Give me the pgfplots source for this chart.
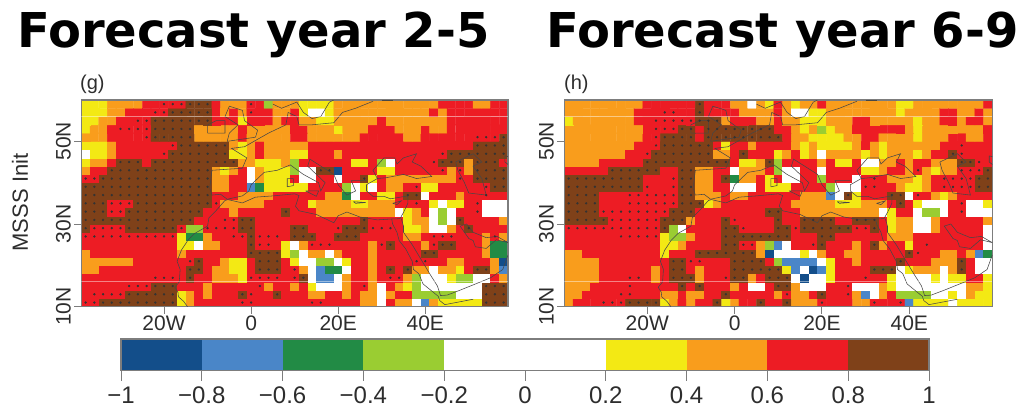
\documentclass[border=0pt]{standalone}
\usepackage{fontspec}
\setmainfont{Liberation Sans}
\newfontfamily\ttlfont{DejaVu Sans}
\usepackage{pgfplots}
\usepackage{pgfplotstable}
\pgfplotsset{compat=1.18}
\definecolor{cD}{RGB}{19,78,138}
\definecolor{cL}{RGB}{74,134,200}
\definecolor{cG}{RGB}{34,139,69}
\definecolor{cl}{RGB}{154,205,50}
\definecolor{cY}{RGB}{243,233,20}
\definecolor{cO}{RGB}{249,157,28}
\definecolor{cR}{RGB}{237,28,36}
\definecolor{cB}{RGB}{127,65,25}
\definecolor{axc}{RGB}{125,125,125}
\definecolor{txc}{RGB}{45,45,45}
% codes: 0 dark blue,1 blue,2 green,3 light green,5 white,6 yellow,7 orange,8 red,9 brown with stipple,10 red with stipple
% rows run from the southernmost (11N) to the northernmost (59N)
\pgfplotstableread[row sep=crcr]{v\\
10\\10\\9\\9\\9\\9\\9\\9\\9\\9\\9\\6\\7\\8\\8\\8\\8\\8\\10\\10\\8\\8\\8\\8\\8\\8\\10\\10\\8\\8\\8\\8\\7\\7\\5\\8\\7\\7\\5\\1\\7\\6\\6\\6\\6\\6\\9\\9\\9\\
8\\10\\10\\10\\10\\9\\9\\9\\9\\9\\9\\6\\7\\8\\7\\8\\8\\8\\9\\10\\8\\8\\9\\8\\8\\8\\7\\7\\8\\8\\7\\8\\7\\7\\5\\7\\8\\8\\3\\3\\3\\3\\3\\5\\5\\5\\9\\9\\9\\
8\\8\\8\\8\\8\\10\\10\\10\\9\\9\\9\\8\\8\\8\\7\\8\\8\\8\\8\\8\\10\\7\\8\\8\\7\\8\\6\\5\\5\\5\\7\\8\\10\\7\\5\\8\\7\\6\\3\\5\\5\\5\\5\\5\\5\\5\\9\\9\\9\\
8\\8\\8\\8\\8\\8\\8\\8\\10\\10\\10\\8\\9\\8\\8\\7\\7\\7\\6\\10\\10\\10\\10\\8\\10\\9\\5\\1\\1\\5\\7\\8\\8\\7\\8\\10\\10\\7\\3\\5\\5\\5\\6\\3\\3\\5\\5\\8\\7\\
7\\7\\8\\8\\8\\8\\8\\8\\8\\8\\8\\8\\9\\9\\8\\7\\7\\6\\6\\8\\9\\9\\9\\8\\10\\7\\5\\1\\2\\2\\5\\8\\8\\7\\8\\9\\8\\9\\7\\7\\5\\7\\7\\6\\8\\9\\9\\7\\1\\
7\\7\\7\\7\\7\\7\\8\\8\\8\\8\\8\\8\\10\\9\\8\\8\\7\\6\\6\\8\\9\\9\\9\\8\\6\\5\\5\\3\\3\\5\\6\\8\\8\\7\\8\\8\\8\\8\\10\\10\\8\\8\\7\\7\\8\\8\\8\\7\\0\\
7\\8\\8\\8\\8\\8\\8\\8\\8\\8\\8\\7\\8\\8\\8\\8\\8\\8\\8\\9\\9\\9\\9\\6\\3\\5\\7\\7\\5\\7\\8\\8\\8\\7\\8\\8\\8\\8\\8\\9\\9\\8\\8\\8\\8\\8\\7\\2\\2\\
8\\8\\8\\8\\8\\8\\8\\8\\8\\8\\8\\6\\6\\5\\7\\7\\8\\8\\8\\9\\10\\10\\8\\6\\5\\7\\10\\10\\10\\8\\8\\8\\8\\7\\10\\9\\8\\8\\8\\7\\10\\9\\9\\8\\8\\8\\7\\2\\2\\
10\\10\\10\\10\\10\\10\\10\\10\\10\\10\\10\\6\\2\\2\\7\\8\\8\\10\\10\\9\\10\\10\\10\\8\\9\\9\\9\\8\\8\\9\\9\\9\\8\\8\\8\\8\\8\\7\\7\\8\\10\\10\\10\\8\\8\\8\\7\\10\\7\\
9\\10\\10\\10\\10\\9\\9\\9\\9\\9\\9\\10\\3\\3\\10\\10\\10\\10\\9\\9\\8\\8\\8\\8\\9\\9\\8\\8\\8\\10\\9\\9\\9\\10\\10\\10\\8\\6\\6\\7\\5\\5\\7\\8\\9\\8\\8\\8\\8\\
9\\9\\9\\9\\9\\9\\9\\9\\9\\9\\9\\9\\9\\8\\8\\8\\10\\10\\9\\9\\8\\8\\8\\8\\8\\8\\8\\8\\8\\8\\8\\8\\9\\8\\8\\8\\8\\6\\7\\7\\5\\3\\5\\9\\8\\8\\8\\8\\7\\
9\\9\\9\\10\\10\\9\\9\\9\\9\\9\\9\\9\\9\\9\\8\\8\\8\\7\\8\\8\\8\\8\\8\\9\\8\\8\\8\\7\\7\\7\\7\\7\\7\\7\\7\\7\\5\\6\\7\\8\\5\\3\\5\\8\\8\\10\\5\\5\\5\\
9\\9\\9\\10\\10\\10\\9\\9\\9\\9\\9\\9\\9\\9\\9\\10\\7\\7\\7\\7\\7\\8\\8\\8\\8\\8\\6\\7\\7\\7\\7\\6\\6\\7\\7\\7\\8\\8\\10\\8\\6\\5\\6\\6\\8\\10\\5\\5\\5\\
9\\9\\9\\9\\9\\9\\9\\9\\9\\9\\9\\9\\9\\9\\9\\8\\8\\8\\7\\7\\7\\7\\8\\8\\8\\8\\8\\8\\7\\7\\2\\5\\8\\8\\6\\6\\8\\9\\9\\5\\8\\8\\8\\7\\8\\8\\10\\8\\8\\
9\\9\\9\\9\\9\\9\\9\\9\\9\\9\\9\\9\\9\\9\\9\\7\\7\\8\\8\\1\\2\\6\\6\\6\\6\\6\\8\\8\\8\\8\\3\\5\\6\\5\\8\\7\\7\\8\\10\\6\\6\\8\\8\\8\\8\\8\\10\\9\\9\\
10\\10\\9\\9\\9\\9\\9\\9\\9\\9\\9\\9\\9\\9\\9\\7\\7\\8\\8\\5\\7\\6\\6\\6\\8\\5\\5\\8\\8\\5\\8\\8\\9\\6\\8\\7\\7\\7\\7\\7\\7\\7\\7\\10\\8\\9\\9\\9\\9\\
7\\8\\8\\9\\9\\9\\9\\9\\9\\9\\9\\9\\9\\9\\9\\7\\6\\7\\8\\5\\7\\6\\6\\6\\3\\5\\5\\9\\9\\0\\8\\8\\8\\8\\6\\6\\8\\8\\8\\8\\8\\10\\7\\10\\7\\9\\9\\9\\9\\
6\\7\\7\\8\\9\\9\\9\\8\\9\\9\\9\\9\\9\\9\\9\\9\\9\\9\\7\\7\\6\\6\\6\\7\\3\\8\\8\\8\\8\\8\\8\\6\\6\\8\\3\\5\\8\\8\\8\\8\\10\\9\\9\\9\\7\\9\\9\\9\\8\\
5\\6\\6\\7\\8\\8\\8\\8\\8\\10\\9\\9\\9\\9\\9\\9\\9\\6\\6\\7\\8\\7\\7\\7\\6\\6\\8\\8\\8\\7\\8\\8\\8\\8\\8\\8\\8\\8\\8\\8\\8\\10\\9\\9\\9\\9\\9\\9\\9\\
6\\6\\6\\7\\8\\8\\8\\8\\8\\8\\10\\9\\9\\9\\9\\9\\9\\7\\6\\7\\8\\7\\7\\7\\7\\7\\8\\8\\8\\8\\8\\8\\8\\8\\8\\8\\8\\8\\8\\8\\8\\8\\8\\8\\8\\9\\9\\9\\9\\
7\\7\\7\\8\\8\\8\\8\\10\\9\\9\\9\\9\\9\\7\\7\\7\\7\\7\\8\\7\\7\\7\\7\\7\\8\\8\\7\\7\\7\\7\\7\\7\\8\\8\\8\\8\\8\\7\\7\\8\\8\\8\\8\\8\\8\\10\\10\\10\\9\\
6\\7\\7\\8\\10\\10\\10\\10\\9\\9\\9\\9\\9\\7\\7\\7\\7\\7\\8\\7\\7\\7\\7\\7\\8\\8\\7\\7\\7\\6\\7\\7\\7\\8\\8\\8\\7\\7\\7\\8\\7\\7\\8\\8\\8\\8\\8\\8\\8\\
6\\6\\7\\7\\8\\8\\10\\10\\9\\9\\9\\9\\9\\9\\9\\8\\8\\8\\6\\8\\8\\8\\7\\8\\8\\7\\7\\6\\6\\7\\7\\7\\7\\7\\8\\7\\7\\7\\7\\7\\7\\7\\8\\8\\8\\8\\8\\8\\8\\
6\\6\\6\\7\\7\\8\\8\\8\\10\\10\\9\\9\\9\\9\\9\\8\\7\\8\\7\\10\\8\\8\\7\\7\\8\\6\\5\\5\\6\\7\\7\\7\\7\\7\\7\\7\\7\\7\\7\\7\\8\\7\\8\\8\\8\\8\\8\\8\\8\\
6\\6\\6\\7\\7\\7\\7\\8\\8\\10\\10\\10\\9\\9\\9\\8\\7\\7\\7\\10\\8\\3\\7\\7\\7\\6\\6\\6\\6\\7\\7\\7\\7\\7\\7\\7\\7\\7\\7\\7\\7\\8\\8\\8\\8\\7\\7\\8\\8\\
}\tableg
\pgfplotstableread[row sep=crcr]{v\\
7\\8\\8\\8\\10\\10\\10\\9\\9\\9\\9\\6\\7\\8\\7\\8\\8\\9\\6\\7\\8\\8\\9\\8\\8\\9\\7\\7\\7\\10\\8\\8\\8\\7\\7\\10\\8\\8\\10\\1\\6\\6\\6\\6\\5\\6\\6\\6\\6\\
7\\7\\8\\8\\8\\8\\10\\10\\8\\8\\8\\7\\7\\8\\7\\7\\8\\8\\9\\8\\8\\8\\8\\8\\7\\10\\7\\7\\8\\9\\8\\8\\10\\7\\1\\5\\7\\8\\3\\3\\3\\3\\5\\5\\6\\5\\7\\6\\6\\
7\\7\\7\\8\\8\\8\\8\\10\\8\\8\\8\\8\\8\\9\\8\\9\\8\\8\\8\\7\\8\\5\\5\\8\\9\\9\\7\\5\\5\\5\\8\\8\\10\\5\\5\\5\\7\\6\\5\\5\\5\\5\\5\\5\\5\\5\\7\\7\\6\\
7\\7\\7\\7\\8\\8\\8\\10\\10\\8\\7\\8\\9\\9\\9\\7\\8\\8\\10\\9\\9\\7\\8\\9\\9\\9\\5\\0\\5\\5\\6\\8\\8\\8\\10\\8\\8\\6\\5\\5\\5\\5\\6\\5\\6\\6\\8\\8\\6\\
7\\7\\7\\7\\8\\8\\8\\8\\8\\8\\7\\8\\9\\9\\8\\7\\8\\8\\8\\9\\9\\9\\9\\9\\9\\6\\1\\5\\0\\1\\6\\8\\8\\8\\8\\9\\9\\9\\5\\6\\7\\7\\7\\5\\7\\9\\8\\5\\5\\
7\\7\\7\\7\\8\\8\\8\\8\\8\\8\\8\\8\\9\\9\\10\\10\\8\\8\\8\\9\\9\\9\\9\\8\\3\\1\\1\\1\\1\\5\\6\\8\\8\\7\\8\\8\\8\\8\\9\\8\\8\\8\\7\\7\\7\\9\\8\\5\\5\\
7\\7\\8\\8\\8\\8\\8\\8\\8\\8\\8\\6\\8\\8\\8\\9\\9\\9\\9\\9\\9\\9\\7\\0\\5\\5\\5\\6\\5\\7\\8\\8\\7\\7\\8\\8\\8\\8\\8\\9\\10\\8\\8\\7\\7\\8\\7\\1\\2\\
8\\8\\8\\8\\8\\8\\8\\8\\8\\8\\8\\6\\6\\7\\8\\8\\8\\8\\9\\9\\10\\10\\7\\3\\1\\5\\8\\8\\10\\9\\8\\8\\8\\7\\8\\9\\7\\8\\8\\6\\8\\10\\8\\8\\8\\8\\8\\8\\5\\
8\\8\\8\\8\\8\\8\\10\\10\\10\\10\\10\\6\\3\\3\\7\\8\\8\\8\\9\\9\\9\\9\\9\\9\\9\\9\\8\\8\\8\\9\\9\\8\\8\\8\\8\\8\\8\\7\\7\\7\\8\\8\\8\\8\\8\\8\\8\\8\\5\\
10\\10\\10\\10\\10\\10\\10\\10\\10\\10\\10\\9\\3\\5\\8\\8\\8\\8\\9\\9\\10\\8\\8\\8\\9\\9\\10\\9\\9\\9\\9\\9\\9\\10\\10\\9\\8\\6\\7\\7\\5\\5\\7\\8\\8\\8\\8\\8\\5\\
9\\9\\9\\9\\9\\10\\10\\10\\10\\10\\10\\9\\9\\9\\7\\8\\8\\8\\9\\10\\8\\8\\8\\8\\9\\8\\8\\9\\9\\9\\9\\8\\8\\9\\9\\9\\8\\6\\7\\7\\5\\5\\7\\8\\8\\8\\8\\8\\7\\
9\\9\\9\\9\\10\\10\\10\\10\\10\\10\\10\\10\\9\\9\\9\\8\\8\\8\\8\\8\\8\\8\\8\\9\\9\\8\\8\\7\\7\\7\\7\\7\\7\\7\\7\\7\\5\\6\\8\\8\\5\\3\\3\\5\\8\\10\\5\\5\\5\\
9\\9\\9\\9\\8\\8\\8\\10\\10\\10\\10\\10\\10\\9\\9\\9\\6\\7\\8\\8\\8\\8\\8\\8\\8\\8\\7\\7\\7\\7\\7\\6\\6\\6\\7\\7\\7\\8\\9\\8\\6\\5\\5\\5\\8\\10\\5\\5\\6\\
9\\9\\9\\9\\8\\8\\8\\10\\10\\10\\10\\10\\10\\9\\9\\7\\7\\7\\8\\7\\7\\8\\8\\8\\8\\8\\8\\7\\7\\7\\1\\5\\9\\6\\8\\8\\8\\9\\9\\5\\10\\8\\7\\6\\7\\8\\8\\8\\8\\
9\\9\\9\\9\\9\\9\\9\\9\\9\\10\\8\\8\\10\\9\\9\\7\\7\\8\\8\\5\\5\\5\\8\\6\\6\\6\\8\\8\\8\\8\\3\\5\\5\\5\\10\\10\\8\\8\\7\\6\\6\\7\\8\\10\\10\\10\\10\\9\\9\\
9\\9\\9\\9\\9\\9\\9\\9\\9\\8\\8\\8\\10\\9\\9\\7\\7\\8\\9\\2\\7\\7\\8\\6\\8\\5\\5\\8\\8\\3\\8\\8\\8\\5\\8\\10\\8\\7\\7\\7\\6\\7\\8\\10\\10\\10\\10\\9\\9\\
8\\8\\8\\8\\8\\9\\9\\9\\9\\9\\9\\8\\8\\9\\9\\7\\7\\8\\8\\5\\7\\7\\7\\8\\3\\5\\5\\8\\8\\5\\8\\8\\8\\8\\6\\6\\7\\8\\8\\7\\10\\7\\6\\7\\7\\10\\10\\10\\9\\
7\\7\\7\\7\\8\\8\\8\\8\\8\\9\\9\\9\\9\\9\\9\\9\\9\\9\\9\\8\\6\\6\\7\\9\\3\\8\\8\\8\\8\\7\\8\\6\\6\\8\\5\\5\\7\\7\\8\\7\\8\\8\\7\\7\\7\\9\\9\\10\\8\\
7\\7\\7\\7\\7\\7\\7\\8\\8\\10\\9\\9\\9\\9\\9\\9\\9\\7\\7\\8\\9\\8\\8\\8\\6\\7\\8\\6\\7\\5\\7\\7\\7\\7\\6\\7\\6\\7\\7\\7\\6\\7\\8\\8\\9\\10\\8\\8\\8\\
7\\7\\7\\7\\7\\7\\7\\7\\8\\8\\10\\9\\9\\9\\9\\9\\9\\8\\6\\8\\8\\7\\8\\8\\8\\8\\7\\6\\7\\6\\6\\6\\6\\7\\8\\7\\6\\7\\7\\7\\7\\7\\7\\8\\8\\10\\8\\8\\8\\
7\\7\\7\\7\\7\\7\\7\\7\\7\\8\\10\\9\\9\\9\\9\\8\\9\\9\\9\\9\\9\\9\\9\\9\\9\\8\\7\\7\\6\\6\\6\\6\\7\\7\\8\\8\\7\\7\\7\\7\\6\\7\\7\\7\\8\\8\\7\\7\\8\\
7\\7\\7\\7\\7\\7\\7\\7\\7\\8\\10\\10\\10\\9\\9\\8\\9\\9\\9\\9\\9\\9\\9\\9\\8\\8\\7\\6\\7\\3\\6\\7\\7\\8\\8\\8\\8\\8\\8\\7\\6\\7\\7\\7\\7\\7\\7\\7\\8\\
6\\7\\7\\7\\7\\7\\7\\7\\8\\8\\10\\10\\10\\10\\10\\9\\9\\9\\7\\8\\8\\8\\7\\7\\8\\7\\7\\6\\6\\6\\7\\7\\7\\8\\8\\7\\7\\7\\7\\7\\6\\7\\7\\8\\8\\7\\8\\8\\7\\
7\\7\\7\\7\\7\\7\\7\\7\\8\\8\\8\\10\\10\\8\\8\\9\\8\\8\\8\\8\\7\\7\\7\\7\\8\\7\\5\\5\\6\\6\\7\\7\\7\\7\\7\\7\\7\\7\\6\\7\\7\\7\\7\\8\\8\\7\\7\\8\\7\\
7\\7\\7\\7\\7\\7\\7\\7\\7\\8\\8\\8\\8\\8\\8\\9\\8\\8\\8\\7\\7\\5\\7\\6\\8\\7\\6\\7\\7\\8\\7\\7\\7\\7\\7\\7\\7\\7\\6\\6\\7\\7\\7\\7\\7\\7\\7\\7\\8\\
}\tableh
\newcommand\coasts{%
\addplot[cst] coordinates {(-14.6,10)(-15.5,11.3)(-16.7,12.4)(-16.8,13.5)(-17.5,14.7)(-16.5,16)(-16.3,19)(-17,21)(-16,23.7)(-14.5,26.1)(-13,27.7)(-10,29.5)(-9.7,31.5)(-8,33.3)(-6,35.7)(-5.3,35.9)(-2,35.1)(1,36.5)(5,36.8)(10,37.3)(11,36.9)(10.2,34.3)(11,33.2)(15,32.3)(19,30.3)(20,32)(22,32.9)(25,31.7)(29,31)(32,31.2)(34.2,31.3)(35,32.8)(36,35)(36,36.8)(32,36.1)(30.5,36.7)(28,36.7)(26.5,38)(26.5,39.5)(29,41)(31,41.2)(35,42)(38,41)(41.5,41.5)(39,44)(37,45)(38,47)(35,46)(33.5,44.5)(33,46)(30.5,46)(28,43)(29,41)};
\addplot[cst] coordinates {(32.3,31.2)(32.5,30)(33.5,28)(34,26)(35.5,24)(37,21)(37.3,19)(38.5,18)(39.5,15.5)(43,12.5)(43.3,11.5)(44.5,10.5)(51,11.8)};
\addplot[cst] coordinates {(34.5,31.3)(35,29.5)(35,28)(37,25)(39,21.5)(41,18)(42.8,15)(43.5,12.7)(45,12.8)(48,14)(52,15.7)(55,17)(57.8,19)(59,22.5)};
\addplot[cst] coordinates {(59,25.5)(56.3,26.2)(54,24.1)(51.5,24.5)(51,26)(50,26.5)(48,29.5)(49.5,30)(51,28)(54,26.7)(56.5,27)(59,25.5)};
\addplot[cst] coordinates {(47,45)(51,47)(53,45)(51,44)(53,41)(54,37)(50,37.5)(49,40)(47.5,43)(47,45)};
\addplot[cst] coordinates {(-9,37)(-9.5,38.7)(-9,43)(-2,43.5)(-1,46)(-4.5,48.3)(-1.5,48.7)(1.5,50.5)(4,52)(8,54)(8.5,57)(10.5,56)(11,54)(14,54)(19,54.5)(21,57)(24,58)(28,59.7)};
\addplot[cst] coordinates {(-9,37)(-7,37.2)(-5.5,36)(-2,36.8)(-0.5,38)(0,39.5)(3,42.5)(6,43)(9,44.3)(12,42)(15.5,40)(16,38)(17,40)(13,44)(13.5,45.7)(19,42)(20,39.5)(22,37)(24,38)(23,40.5)(26.5,40.5)};
\addplot[cst] coordinates {(-5.5,50)(1,51)(1.5,52.7)(-1.5,55)(-2,57.5)(-5,58.5)(-6,56)(-3,54)(-5,52)(-5.5,50)};
\addplot[cst] coordinates {(-10,52)(-6,52)(-6,55)(-8,55)(-10,54)(-10,52)};
\addplot[cst] coordinates {(5,59)(7,58)(10.5,59.5)(12,57)(14,55.5)(16,56)(18,59.5)(19,60)};
\addplot[cst] coordinates {(8.3,39)(9.7,39.3)(9.7,41)(8.3,41)(8.3,39)};
\addplot[cst] coordinates {(12.5,38)(15.5,38)(15,36.7)(12.5,38)};
\addplot[cst] coordinates {(23.5,35.4)(26.3,35.2)(24,35)(23.5,35.4)};
\addplot[cst] coordinates {(32.5,35)(34.5,35.6)(33.5,34.7)(32.5,35)};
\addplot[cst] coordinates {(58.3,46.5)(60,46)(59.5,44)(58.3,45)(58.3,46.5)};
\addplot[cst] coordinates {(30,60)(32.5,60)(32.5,61)(30,61)(30,60)};
\addplot[pale] coordinates {(-39,16)(59,16)};
\addplot[pale] coordinates {(-39,56)(59,56)};
}
\pgfplotsset{
 cst/.style={no marks,line width=.55pt,color=black!72},
 pale/.style={no marks,line width=.9pt,color=white,opacity=.45},
 mapaxis/.style={
  scale only axis,height=206.7pt,anchor=south west,
  xmin=-39,xmax=59,ymin=10,ymax=60,
  axis line style={color=axc,line width=1.1pt},
  tick style={color=axc,line width=1pt},
  major tick length=7pt,tick align=outside,
  xtick pos=bottom,ytick pos=left,
  xtick={-20,0,20,40},xticklabels={20W,0,20E,40E},
  ytick={10,30,50},yticklabels={10N,30N,50N},
  yticklabel style={rotate=90,anchor=south,font=\fontsize{21}{23}\selectfont,text=txc,yshift=0pt},
  xticklabel style={font=\fontsize{21}{23}\selectfont,text=txc,yshift=1pt},
  colormap={mss}{rgb255=(19,78,138) rgb255=(74,134,200) rgb255=(34,139,69) rgb255=(154,205,50) rgb255=(255,255,255) rgb255=(255,255,255) rgb255=(243,233,20) rgb255=(249,157,28) rgb255=(237,28,36) rgb255=(127,65,25) rgb255=(237,28,36)},
  colormap name=mss,colormap access=direct,
  point meta min=0,point meta max=10,
 },
 overlay/.style={scale only axis,height=206.7pt,anchor=south west,xmin=-39,xmax=59,ymin=10,ymax=60,hide axis},
 cellmap/.style={matrix plot*,mesh/cols=49,point meta=explicit},
 stip/.style={only marks,mark=*,mark size=.95pt,color=black!80,restrict expr to domain={\thisrow{v}}{9:10}},
}
\begin{document}
\begin{tikzpicture}[x=1pt,y=1pt]
\path[use as bounding box] (0,0) rectangle (1017,410);
\node[anchor=base west,inner sep=0,font=\fontsize{48}{50}\ttlfont\bfseries] at (17,362) {Forecast year 2-5};
\node[anchor=base west,inner sep=0,font=\fontsize{48}{50}\ttlfont\bfseries] at (546,362) {Forecast year 6-9};
\node[anchor=base west,inner sep=0,font=\fontsize{20}{22}\selectfont,text=txc] at (80,320) {(g)};
\node[anchor=base west,inner sep=0,font=\fontsize{20}{22}\selectfont,text=txc] at (564,320) {(h)};
\node[rotate=90,anchor=center,inner sep=0,font=\fontsize{22}{24}\selectfont,text=txc] at (20,207.5) {MSSS Init};
\begin{axis}[mapaxis,at={(81.3pt,103.3pt)},width=426.7pt,axis on top]
\addplot[cellmap] table[x index=0,y index=0,x expr={-38+2*mod(\coordindex,49)},y expr={11+2*floor((\coordindex+0.5)/49)},meta=v]{\tableg};
\end{axis}
\begin{axis}[overlay,at={(81.3pt,103.3pt)},width=426.7pt]
\addplot[stip] table[x index=0,y index=0,x expr={-38+2*mod(\coordindex,49)},y expr={11+2*floor((\coordindex+0.5)/49)}]{\tableg};
\coasts
\end{axis}
\begin{axis}[mapaxis,at={(564.3pt,103.3pt)},width=428pt,axis on top]
\addplot[cellmap] table[x index=0,y index=0,x expr={-38+2*mod(\coordindex,49)},y expr={11+2*floor((\coordindex+0.5)/49)},meta=v]{\tableh};
\end{axis}
\begin{axis}[overlay,at={(564.3pt,103.3pt)},width=428pt]
\addplot[stip] table[x index=0,y index=0,x expr={-38+2*mod(\coordindex,49)},y expr={11+2*floor((\coordindex+0.5)/49)}]{\tableh};
\coasts
\end{axis}
\begin{axis}[scale only axis,at={(121pt,39.3pt)},anchor=south west,width=808pt,height=31.7pt,
  xmin=-1,xmax=1,ymin=0,ymax=1,ytick=\empty,axis on top,
  axis line style={color=axc,line width=1.1pt},
  tick style={color=axc,line width=1pt},major tick length=10pt,tick align=outside,xtick pos=bottom,
  xtick={-1,-0.8,-0.6,-0.4,-0.2,0,0.2,0.4,0.6,0.8,1},
  xticklabels={−1,−0.8,−0.6,−0.4,−0.2,0,0.2,0.4,0.6,0.8,1},
  xticklabel style={font=\fontsize{24}{26}\selectfont,text=txc,yshift=-3pt}]
\addplot[fill=cD,draw=none] coordinates {(-1,1)(-0.8,1)} \closedcycle;
\addplot[fill=cL,draw=none] coordinates {(-0.8,1)(-0.6,1)} \closedcycle;
\addplot[fill=cG,draw=none] coordinates {(-0.6,1)(-0.4,1)} \closedcycle;
\addplot[fill=cl,draw=none] coordinates {(-0.4,1)(-0.2,1)} \closedcycle;
\addplot[fill=white,draw=none] coordinates {(-0.2,1)(0.2,1)} \closedcycle;
\addplot[fill=cY,draw=none] coordinates {(0.2,1)(0.4,1)} \closedcycle;
\addplot[fill=cO,draw=none] coordinates {(0.4,1)(0.6,1)} \closedcycle;
\addplot[fill=cR,draw=none] coordinates {(0.6,1)(0.8,1)} \closedcycle;
\addplot[fill=cB,draw=none] coordinates {(0.8,1)(1,1)} \closedcycle;
\end{axis}
\end{tikzpicture}
\end{document}
